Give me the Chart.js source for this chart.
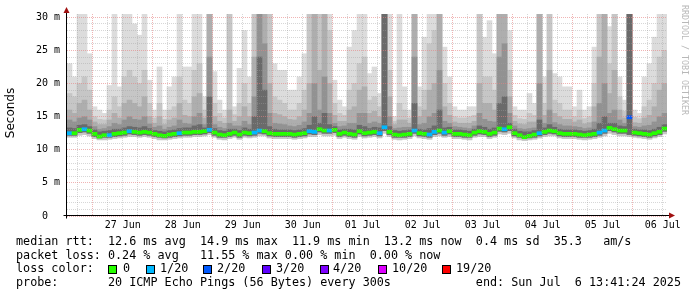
<!DOCTYPE html>
<html><head><meta charset="utf-8">
<script src="https://cdn.jsdelivr.net/npm/chart.js@4"></script>
<style>html,body{margin:0;padding:0;background:#fff;overflow:hidden}#wrap{position:relative;width:697px;height:297px}</style>
</head><body><div id="wrap"><canvas id="c" width="697" height="297" style="width:697px;height:297px"></canvas></div>
<script>
// ---- data (2-hour bins, 26 Jun 13:41 -> 06 Jul 13:41, values in ms) ----
const dayLabels = ['27 Jun','28 Jun','29 Jun','30 Jun','01 Jul','02 Jul','03 Jul','04 Jul','05 Jul','06 Jul'];
const yTickLabels = ['0  ','5 m','10 m','15 m','20 m','25 m','30 m'];
const median = [
 12.5,12.5,13.0,13.1,12.9,12.4,12.0,12.2,12.2,12.4,
 12.5,12.6,12.8,12.7,12.6,12.7,12.6,12.4,12.2,12.1,
 12.3,12.4,12.5,12.6,12.6,12.7,12.7,12.8,13.0,12.6,
 12.3,12.2,12.4,12.6,12.3,12.6,12.5,12.6,12.9,12.8,
 12.5,12.4,12.4,12.4,12.4,12.3,12.4,12.5,12.8,12.7,
 13.1,12.9,12.9,13.0,12.4,12.6,12.4,12.3,12.8,12.5,
 12.6,12.7,12.5,13.4,12.7,12.3,12.2,12.3,12.4,12.9,
 12.5,12.4,12.3,12.7,12.9,12.6,12.8,12.4,12.4,12.3,
 12.2,12.6,12.8,12.7,12.4,12.6,13.2,13.1,13.4,12.5,
 12.2,11.9,12.1,12.3,12.5,12.7,12.9,12.8,12.5,12.4,
 12.4,12.4,12.3,12.2,12.3,12.4,12.6,12.9,13.3,13.1,
 12.9,12.9,14.9,12.6,12.5,12.4,12.3,12.5,12.7,13.2];
const lossCount = [
 1,0,0,1,0,0,0,0,1,0, 0,0,1,0,0,0,0,0,0,0, 0,0,1,0,0,0,0,0,1,0,
 0,0,0,0,0,0,0,1,1,0, 0,0,0,0,0,0,0,0,1,1, 0,0,1,0,0,0,0,0,0,0,
 0,0,1,1,0,0,0,0,0,1, 0,0,1,1,0,1,0,0,0,0, 0,0,0,0,0,0,0,1,0,0,
 0,0,0,0,1,0,0,0,0,0, 0,0,0,0,0,0,1,1,0,0, 0,0,2,0,0,0,0,0,0,0];
const rttMax = [
 23,21,31,31,24.5,16.5,16,15.5,19.7,31,
 19.5,31,31,29,27.3,31,20.5,16,22.5,16,
 19.5,21,31,22.5,22.5,31,31,18,31,21.8,
 17.5,16,31,16.5,22.3,28,21,31,31,31,
 31,23,22,22,19,19,21,24.5,31,31,
 31,31,31,20.5,17.5,16.5,25.5,28,31,31,
 21.5,22.5,18.5,31,31,15,31,19.5,16,31,
 19.5,27,31,31,31,25.5,21,16.5,16,16,
 16.5,16.5,31,27,29.5,24.5,31,31,28,16.5,
 16,16,18.5,17,31,21,31,21.5,21,19.5,
 19.5,16.5,19,16,16.5,25.5,31,31,28.6,31,
 21,17.5,31,16,15.5,21,23,27,31,31];
const rttP90 = [
 18.5,18,20,21,19,15,14.6,14.5,16,18,
 16.5,21,22,21,20,22,17,14.8,17,14.6,
 16,16.5,21,17.5,17,22,23,16,31,17,
 15.5,14.8,31,15.3,17,20,17,31,31,31,
 31,18,17.5,17,16,16,17,19,31,31,
 31,31,28,17,15.5,15.2,19,20,23,24,
 17.5,18,16.5,31,22,14.3,17,16,14.8,31,
 16.5,19,26,28,31,20,17,15,14.8,14.8,
 15,15.2,31,21,21,19,31,31,22,15.2,
 14.7,14.6,15.5,15.2,31,17,31,17.5,17,16,
 16,15,16,14.7,15,20,31,31,23,31,
 18,15.8,31,14.9,14.7,16.5,17.5,20,24,25];
const rttP75 = [
 16,15.5,17,17.5,16,14.2,13.8,13.8,14.5,15.5,
 14.8,17,17.5,17,16.5,18,15,14,15,13.8,
 14.5,14.8,17,15.2,15,18,18.5,14.8,31,15,
 14.3,14,16,14.3,15,16.5,15,24,31,31,
 20,15.5,15.3,15,14.6,14.5,15,16,20,31,
 22,31,20,15.2,14.3,14.3,16,16.5,19,19.5,
 15.5,15.8,15,31,18,13.8,14.5,14.5,14,31,
 15,16,19,20,31,16.5,15.2,14.2,14,14,
 14,14.3,20,17,17,16,31,31,18,14.3,
 13.9,13.8,14.2,14.2,31,15.2,22,15.5,15,14.6,
 14.6,14.2,14.5,13.9,14.1,16.5,24,31,18.5,22,
 16,14.8,31,14.1,14,14.8,15.2,16.5,19,20];
const rttP60 = [
 14.5,14.2,14.8,15,14.5,13.5,13.1,13.2,13.5,14,
 13.8,14.5,15,14.6,14.5,15,13.9,13.4,13.6,13.1,
 13.4,13.6,14.5,14,13.9,15,15.5,13.8,24,13.8,
 13.4,13.2,14,13.6,13.6,14.3,13.8,18,31,26,
 15.5,14,13.9,13.8,13.6,13.5,13.7,14.2,15.5,20,
 16,21,15.5,14,13.5,13.6,14,14,15.5,15.5,
 14,14.2,14,31,15,13.2,13.3,13.4,13.4,24,
 13.8,14,15,15.5,22,14.3,14,13.5,13.4,13.3,
 13.2,13.6,15.5,14.6,14.3,14.2,24,26,15.5,13.6,
 13.2,13.1,13.2,13.3,20,14,16,14.1,13.8,13.6,
 13.6,13.5,13.4,13.2,13.3,14.2,17,20,15.5,16,
 14.5,14,31,13.5,13.4,13.6,13.7,14.2,15,15.5];
const rttP55 = [
 13.3,13.2,13.7,13.8,13.5,13.0,12.7,12.8,12.9,13.1,
 13.1,13.3,13.5,13.4,13.3,13.5,13.2,12.9,12.8,12.7,
 12.9,13.0,13.2,13.3,13.3,13.6,13.8,13.3,18,13.2,
 12.9,12.8,13.1,13.1,12.9,13.3,13.1,15,24,19,
 13.5,13.1,13.0,13.0,13.0,12.9,13.0,13.2,13.7,15,
 14,15.5,13.8,13.5,13.0,13.1,13.1,13.0,13.7,13.5,
 13.2,13.4,13.3,31,13.5,12.9,12.8,12.9,13.0,17,
 13.1,13.0,13.2,13.6,16,13.3,13.4,13.0,13.0,12.9,
 12.8,13.1,13.6,13.4,13.1,13.3,17,18,14,13.1,
 12.8,12.7,12.7,12.9,14.5,13.3,13.8,13.4,13.1,13.0,
 13.0,13.0,12.9,12.8,12.9,13.1,14,15,14,14,
 13.6,13.5,31,13.1,13.0,13.0,12.9,13.1,13.4,13.8];
const rttMin = [
 11.9,11.9,12.2,12.3,12.1,11.7,11.5,11.5,11.6,11.7,
 11.8,11.9,12.0,12.0,11.9,12.0,11.9,11.7,11.5,11.5,
 11.6,11.7,11.8,11.9,11.9,12.0,12.0,12.1,12.3,11.9,
 11.6,11.5,11.7,11.9,11.6,11.9,11.8,11.9,12.1,12.1,
 11.8,11.7,11.7,11.7,11.7,11.6,11.7,11.8,12.0,12.0,
 12.3,12.1,12.1,12.2,11.7,11.9,11.7,11.6,12.0,11.8,
 11.9,12.0,11.8,12.5,12.0,11.6,11.5,11.6,11.7,12.1,
 11.8,11.7,11.6,12.0,12.1,11.9,12.0,11.7,11.7,11.6,
 11.5,11.9,12.0,12.0,11.7,11.9,12.4,12.3,12.5,11.8,
 11.5,11.4,11.5,11.6,11.8,12.0,12.1,12.1,11.8,11.7,
 11.7,11.7,11.6,11.5,11.6,11.7,11.9,12.1,12.5,12.3,
 12.1,12.1,12.0,11.9,11.8,11.7,11.6,11.8,12.0,12.4];
const rttLow = [
 12.2,12.2,12.6,12.7,12.5,12.0,11.8,11.9,11.9,12.0,
 12.1,12.2,12.4,12.3,12.2,12.3,12.2,12.0,11.9,11.8,
 11.9,12.0,12.1,12.2,12.2,12.3,12.3,12.4,12.6,12.2,
 11.9,11.9,12.0,12.2,11.9,12.2,12.1,12.2,12.5,12.4,
 12.1,12.0,12.0,12.0,12.0,11.9,12.0,12.1,12.4,12.3,
 12.7,12.5,12.5,12.6,12.0,12.2,12.0,11.9,12.4,12.1,
 12.2,12.3,12.1,12.9,12.3,11.9,11.9,11.9,12.0,12.5,
 12.1,12.0,11.9,12.3,12.5,12.2,12.4,12.0,12.0,11.9,
 11.9,12.2,12.4,12.3,12.0,12.2,12.8,12.7,12.9,12.1,
 11.9,11.8,11.8,11.9,12.1,12.3,12.5,12.4,12.1,12.0,
 12.0,12.0,11.9,11.9,11.9,12.0,12.2,12.5,12.9,12.7,
 12.5,12.5,12.3,12.2,12.1,12.0,11.9,12.1,12.3,12.8];
const lossLabels = ['0','1/20','2/20','3/20','4/20','10/20','19/20'];
const lossColors = ['#26ff00','#00b8ff','#0059ff','#5e00ff','#7e00ff','#dd00ff','#ff0000'];

// ---- time axis ----
const STEP_H = 2, SPAN_H = 240;
const MID0 = (Date.UTC(2025,5,27) - Date.UTC(2025,5,26,13,41,24)) / 3.6e6; // first midnight, hours from start
const times = median.map((_, i) => i * STEP_H + STEP_H / 2);
function lossIndex(n){ return n >= 19 ? 6 : n >= 10 ? 5 : n >= 4 ? 4 : n; }
function band(lo, hi){ return times.map((t, i) => ({x: t, y: [lo[i], hi[i]]})); }
const MED_HALF = 0.23; // half thickness of the median stroke (style)
const barCommon = {type:'bar', grouped:false, barPercentage:1, categoryPercentage:1, borderWidth:0, borderSkipped:false};

const MAJOR = 'rgba(230,130,130,0.6)', MINOR = 'rgba(160,160,160,0.42)';
function isMidnight(v){ const r = ((v - MID0) % 24 + 24) % 24; return r < 0.01 || r > 23.99; }

const decor = {
  id: 'decor',
  afterDraw(chart){
    const {ctx, chartArea: a} = chart;
    ctx.save();
    const xl = Math.round(a.left) - 0.5, yb = Math.round(a.bottom) - 0.5;
    ctx.strokeStyle = '#000'; ctx.lineWidth = 1;
    ctx.beginPath();
    ctx.moveTo(xl, yb + 3); ctx.lineTo(xl, a.top - 2);
    ctx.moveTo(xl - 3, yb); ctx.lineTo(a.right + 2, yb);
    ctx.stroke();
    ctx.fillStyle = '#a01010';
    ctx.beginPath(); ctx.moveTo(xl, a.top - 7); ctx.lineTo(xl - 3, a.top - 1); ctx.lineTo(xl + 3, a.top - 1); ctx.closePath(); ctx.fill();
    ctx.beginPath(); ctx.moveTo(a.right + 8, yb); ctx.lineTo(a.right + 2, yb - 3); ctx.lineTo(a.right + 2, yb + 3); ctx.closePath(); ctx.fill();
    // y axis title
    ctx.fillStyle = '#000';
    ctx.font = '12px "DejaVu Sans"';
    ctx.textAlign = 'center'; ctx.textBaseline = 'middle';
    ctx.save(); ctx.translate(10.5, 113); ctx.rotate(-Math.PI/2); ctx.fillText('Seconds', 0, 0); ctx.restore();
    // watermark
    ctx.save(); ctx.fillStyle = '#b8b8b8'; ctx.font = '8.3px "DejaVu Sans Mono"';
    ctx.translate(684, 5); ctx.rotate(Math.PI/2); ctx.textAlign = 'left'; ctx.textBaseline = 'middle';
    ctx.fillText('RRDTOOL / TOBI OETIKER', 0, 0); ctx.restore();
    // legend
    ctx.fillStyle = '#000'; ctx.font = '11.75px "DejaVu Sans Mono"';
    ctx.textAlign = 'left'; ctx.textBaseline = 'alphabetic';
    ctx.fillText('median rtt:  12.6 ms avg  14.9 ms max  11.9 ms min  13.2 ms now  0.4 ms sd  35.3   am/s', 16, 245);
    ctx.fillText('packet loss: 0.24 % avg   11.55 % max 0.00 % min  0.00 % now', 16, 258.7);
    ctx.fillText('loss color:', 16, 272.4);
    const boxX = [108, 146, 203, 262, 320, 378, 442], txtX = [123, 160, 217, 276, 333, 392, 456];
    lossLabels.forEach((l, i) => {
      ctx.fillStyle = lossColors[i]; ctx.fillRect(boxX[i], 265.5, 8, 8);
      ctx.strokeStyle = '#000'; ctx.strokeRect(boxX[i] + 0.5, 265.5, 8, 8);
      ctx.fillStyle = '#000'; ctx.fillText(l, txtX[i], 272.4);
    });
    ctx.fillText('probe:       20 ICMP Echo Pings (56 Bytes) every 300s            end: Sun Jul  6 13:41:24 2025', 16, 286);
    ctx.restore();
  }
};

new Chart(document.getElementById('c'), {
  type: 'bar',
  data: {
    datasets: [
      {...barCommon, data: band(rttMin, rttMax), backgroundColor: '#dcdcdc', order: 6},
      {...barCommon, data: band(rttMin, rttP90), backgroundColor: '#c6c6c6', order: 5},
      {...barCommon, data: band(rttLow, rttP75), backgroundColor: '#aeaeae', order: 4},
      {...barCommon, data: band(rttLow, rttP60), backgroundColor: '#929292', order: 3},
      {...barCommon, data: band(rttLow, rttP55), backgroundColor: '#6a6a6a', order: 2},
      {...barCommon, data: times.map((t, i) => ({x: t, y: [median[i] - MED_HALF, median[i] + MED_HALF]})),
        backgroundColor: lossCount.map(n => lossColors[lossIndex(n)]), order: 0}
    ]
  },
  options: {
    responsive: false, animation: false, devicePixelRatio: 1,
    layout: {padding: {top: 14, right: 30, left: 0, bottom: 0}},
    plugins: {legend: {display: false}, tooltip: {enabled: false}},
    scales: {
      x: {
        type: 'linear', min: 0, max: SPAN_H, offset: false,
        afterBuildTicks: s => { const t = []; for (let v = MID0 % 6; v < SPAN_H; v += 6) t.push({value: v}); s.ticks = t; },
        afterFit: s => { s.height = 81; },
        grid: {offset: false, drawTicks: false, z: 1, lineWidth: 1,
          color: c => (c.tick && isMidnight(c.tick.value)) ? MAJOR : MINOR},
        border: {display: false, dash: [1, 1]},
        ticks: {autoSkip: false, maxRotation: 0, padding: 3, color: '#000',
          font: {family: 'DejaVu Sans Mono', size: 10},
          callback: v => { const r = v - MID0 - 12; const k = Math.round(r / 24);
            return (Math.abs(r - 24 * k) < 0.01 && k >= 0 && k < dayLabels.length) ? dayLabels[k] : ''; }}
      },
      y: {
        type: 'linear', min: 0, max: 30.5,
        afterBuildTicks: s => { const t = []; for (let v = 0; v <= 30; v++) t.push({value: v}); s.ticks = t; },
        afterFit: s => { s.width = 67; },
        grid: {drawTicks: false, z: 1, lineWidth: 1,
          color: c => (c.tick && c.tick.value % 5 === 0) ? MAJOR : MINOR},
        border: {display: false, dash: [1, 1]},
        ticks: {autoSkip: false, padding: 7, color: '#000',
          font: {family: 'DejaVu Sans Mono', size: 10},
          callback: v => v % 5 === 0 ? yTickLabels[v / 5] : ''}
      }
    }
  },
  plugins: [decor]
});
</script>
</body></html>
